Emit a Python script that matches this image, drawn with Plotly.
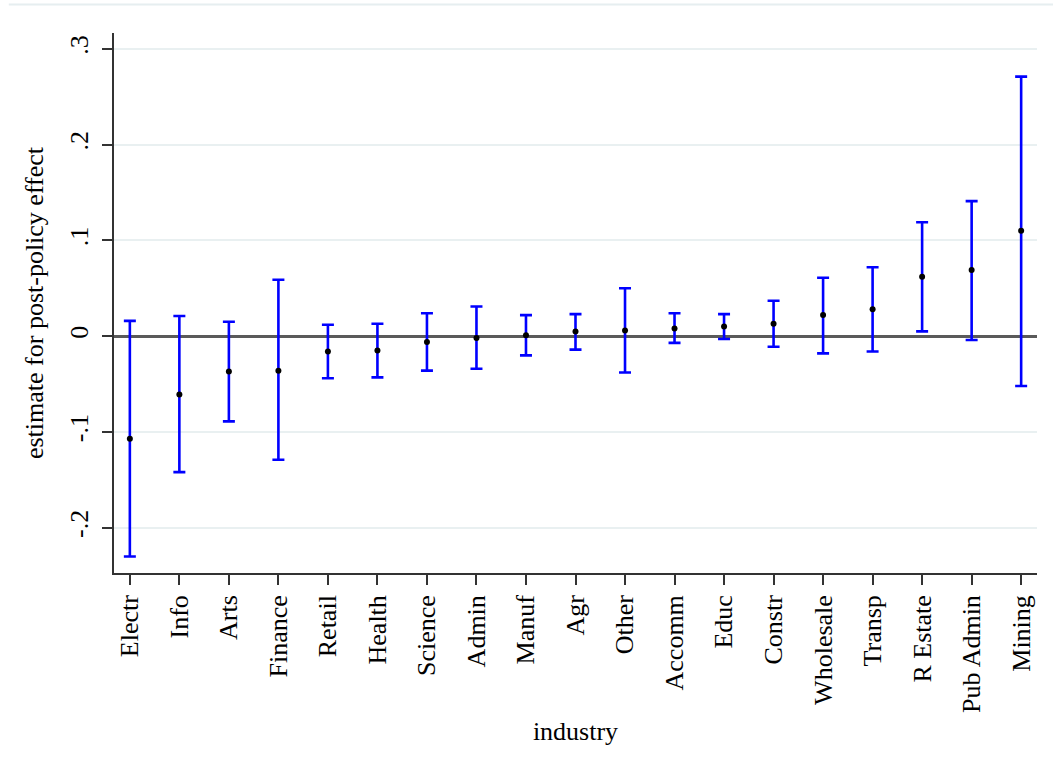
import plotly.graph_objects as go

# Industry-level estimates of the post-policy effect with confidence bounds
industries = ["Electr", "Info", "Arts", "Finance", "Retail", "Health", "Science",
              "Admin", "Manuf", "Agr", "Other", "Accomm", "Educ", "Constr",
              "Wholesale", "Transp", "R Estate", "Pub Admin", "Mining"]
estimate = [-0.107, -0.061, -0.037, -0.036, -0.016, -0.015, -0.006,
            -0.002, 0.001, 0.005, 0.006, 0.008, 0.010, 0.013,
            0.022, 0.028, 0.062, 0.069, 0.110]
upper = [0.016, 0.021, 0.015, 0.059, 0.012, 0.013, 0.024,
         0.031, 0.022, 0.023, 0.050, 0.024, 0.023, 0.037,
         0.061, 0.072, 0.119, 0.141, 0.271]
lower = [-0.230, -0.142, -0.089, -0.129, -0.044, -0.043, -0.036,
         -0.034, -0.020, -0.014, -0.038, -0.007, -0.003, -0.011,
         -0.018, -0.016, 0.005, -0.004, -0.052]
y_ticks = [-0.2, -0.1, 0, 0.1, 0.2, 0.3]
y_tick_text = ["-.2", "-.1", "0", ".1", ".2", ".3"]

pos = list(range(len(industries)))
err_plus = [u - e for u, e in zip(upper, estimate)]
err_minus = [e - l for e, l in zip(estimate, lower)]

font_family = "Liberation Serif"
font_size = 26
axis_color = "#333333"

fig = go.Figure()
fig.add_trace(go.Scatter(
    x=pos, y=estimate, mode="markers",
    marker=dict(color="black", size=6),
    error_y=dict(type="data", symmetric=False, array=err_plus,
                 arrayminus=err_minus, color="#0000ff",
                 thickness=2.6, width=6),
    showlegend=False, hoverinfo="skip",
))

fig.update_layout(
    width=1053, height=769,
    margin=dict(l=114, r=16, t=33, b=196),
    paper_bgcolor="white", plot_bgcolor="white",
    font=dict(family=font_family, size=font_size, color="black"),
    xaxis=dict(
        range=[-0.32, len(industries) - 1 + 0.32],
        tickmode="array", tickvals=pos, ticktext=industries,
        tickangle=-90, ticks="outside", ticklen=10, tickwidth=1.5,
        tickcolor=axis_color, showgrid=False, zeroline=False,
        showline=True, linecolor=axis_color, linewidth=1.5,
        tickfont=dict(family=font_family, size=font_size),
        title=dict(text="industry", standoff=10,
                   font=dict(family=font_family, size=font_size)),
    ),
    yaxis=dict(
        range=[-0.2473, 0.3166],
        tickmode="array", tickvals=y_ticks, ticktext=y_tick_text,
        tickangle=-90, ticks="outside", ticklen=10, tickwidth=1.5,
        tickcolor=axis_color, ticklabelstandoff=4,
        showgrid=True, gridcolor="#e9f0f1", gridwidth=2,
        zeroline=True, zerolinecolor="#5a5a5a", zerolinewidth=2.5,
        showline=True, linecolor=axis_color, linewidth=1.5,
        tickfont=dict(family=font_family, size=font_size),
        title=dict(text="estimate for post-policy effect", standoff=14,
                   font=dict(family=font_family, size=font_size)),
    ),
    shapes=[dict(type="line", xref="paper", yref="paper",
                 x0=-0.114, x1=1.02, y0=1.0528, y1=1.0528,
                 line=dict(color="#e6eef0", width=2))],
)

fig.write_html("out.html")
